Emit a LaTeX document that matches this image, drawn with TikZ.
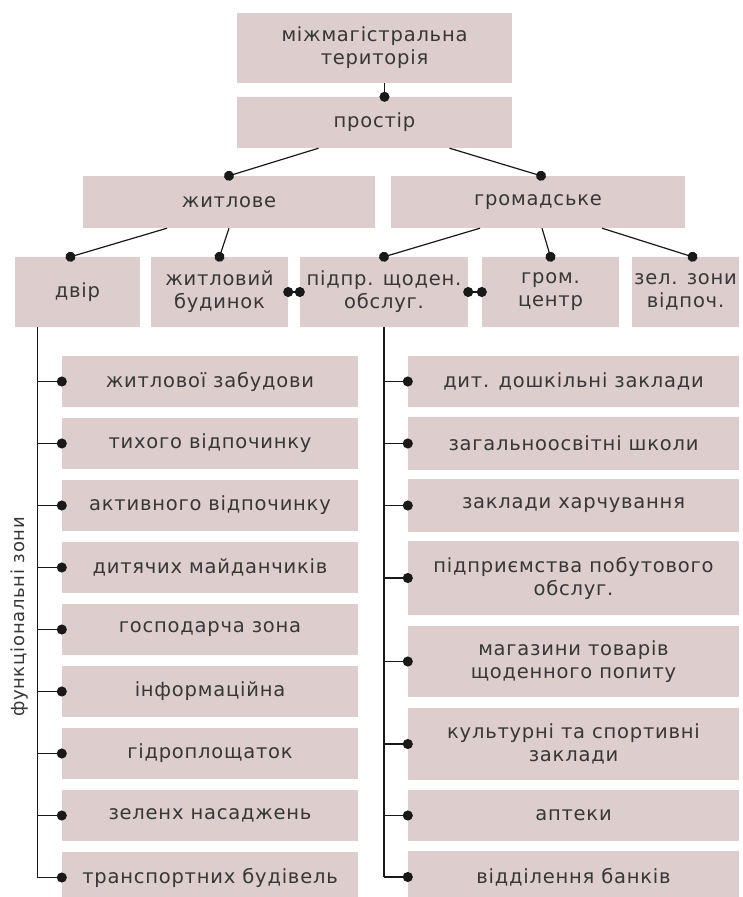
\documentclass[tikz,border=0pt]{standalone}
\usepackage{fontspec}
\setmainfont{DejaVu Sans}[LetterSpace=4]
\usetikzlibrary{arrows.meta}
\definecolor{boxfill}{RGB}{221,205,205}
\definecolor{txt}{RGB}{55,55,55}
\definecolor{wire}{RGB}{25,25,25}

\begin{document}
\begin{tikzpicture}[x=1pt, y=-1pt,
    box/.style={fill=boxfill, text=txt, align=center, inner sep=0pt, font=\fontsize{19.5}{23}\selectfont},
    link/.style={draw=wire, line width=1.2pt, -{Circle[length=10pt]}, shorten >=-5pt},
    twin/.style={draw=wire, line width=1.2pt, {Circle[length=10pt]}-{Circle[length=10pt]}, shorten >=-5pt, shorten <=-5pt},
    trunk/.style={draw=wire, line width=1.2pt}]
    \path[fill=white, use as bounding box] (0,0) rectangle (743,897);

    \node[box, minimum width=275, minimum height=70] (terr) at (374.5,48) {міжмагістральна\\територія};
    \node[box, minimum width=275, minimum height=51] (space) at (374.5,122.5) {простір};
    \node[box, minimum width=292, minimum height=52] (res) at (229,202) {житлове};
    \node[box, minimum width=294, minimum height=52] (pub) at (538,202) {громадське};

    \node[box, minimum width=125, minimum height=70] (yard) at (77.5,292) {двір};
    \node[box, minimum width=137, minimum height=70] (house) at (219.5,292) {житловий\\будинок};
    \node[box, minimum width=168, minimum height=70] (serv) at (384,292) {підпр. щоден.\\обслуг.};
    \node[box, minimum width=137, minimum height=70] (centre) at (550.5,292) {гром.\\центр};
    \node[box, minimum width=107, minimum height=70] (green) at (685.5,292) {зел. зони\\відпоч.};

    \draw[link] ([xshift=10]terr.south) -- ([xshift=10]space.north);
    \draw[link] ([xshift=-56]space.south) -- (res.north);
    \draw[link] ([xshift=75]space.south) -- ([xshift=3]pub.north);
    \draw[link] ([xshift=-62]res.south) -- ([xshift=-7]yard.north);
    \draw[link] (res.south) -- (house.north);
    \draw[link] ([xshift=-58]pub.south) -- (serv.north);
    \draw[link] ([xshift=4]pub.south) -- (centre.north);
    \draw[link] ([xshift=64]pub.south) -- ([xshift=7]green.north);
    \draw[twin] (house.east) -- (serv.west);
    \draw[twin] (serv.east) -- (centre.west);

    % functional zones of the yard
    \foreach \t [count=\i] in {житлової забудови, тихого відпочинку, активного відпочинку,
        дитячих майданчиків, господарча зона, інформаційна, гідроплощаток,
        зеленх насаджень, транспортних будівель}
        \node[box, minimum width=296, minimum height=51] (l\i) at (210,319.5+62*\i) {\t};
    \node[text=txt, rotate=90, font=\fontsize{18}{22}\selectfont] (fz) at (20,617) {функціональні зони};
    \coordinate (ltop) at ([xshift=-40]yard.south);
    \draw[trunk] (ltop) -- (ltop |- l9.west);
    \foreach \i in {1,...,9}
        \draw[link] (ltop |- l\i.west) -- (l\i.west);

    % services
    \node[box, minimum width=331, minimum height=51] (r1) at (573.5,381.5) {дит. дошкільні заклади};
    \node[box, minimum width=331, minimum height=53] (r2) at (573.5,443.5) {загальноосвітні школи};
    \node[box, minimum width=331, minimum height=53] (r3) at (573.5,505.5) {заклади харчування};
    \node[box, minimum width=331, minimum height=74] (r4) at (573.5,578) {підприємства побутового\\обслуг.};
    \node[box, minimum width=331, minimum height=71] (r5) at (573.5,661.5) {магазини товарів\\щоденного попиту};
    \node[box, minimum width=331, minimum height=72] (r6) at (573.5,744) {культурні та спортивні\\заклади};
    \node[box, minimum width=331, minimum height=51] (r7) at (573.5,815.5) {аптеки};
    \node[box, minimum width=331, minimum height=52] (r8) at (573.5,877) {відділення банків};
    \draw[trunk] (serv.south) -- (serv.south |- r8.west);
    \foreach \i in {1,...,8}
        \draw[link] (serv.south |- r\i.west) -- (r\i.west);
\end{tikzpicture}
\end{document}
